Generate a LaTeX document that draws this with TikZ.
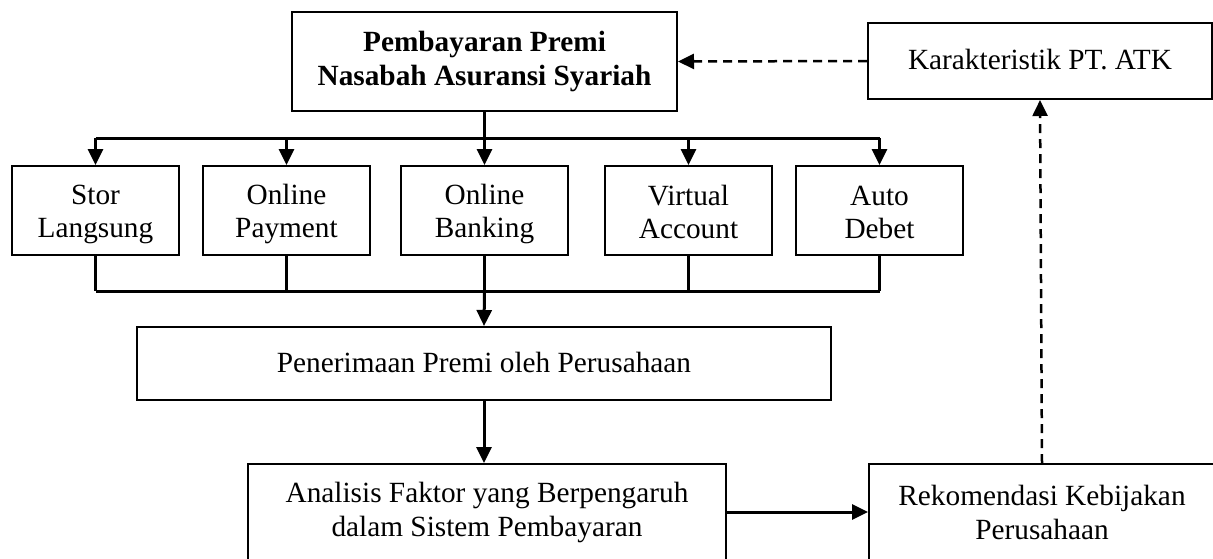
\documentclass[tikz,border=0pt]{standalone}
\usepackage{fontspec}
\setmainfont{Liberation Serif}
\usetikzlibrary{arrows.meta}
\newcommand{\tl}{\rule{0pt}{28pt}}
\newcommand{\bl}{\rule[-5pt]{0pt}{5pt}}
\tikzset{
  box/.style={draw, line width=2pt, align=center, inner sep=0pt,
    font=\fontsize{29.3}{33}\selectfont},
  conn/.style={line width=3pt},
  arr/.style={line width=3pt, -{Triangle[length=16pt,width=15pt]}},
  darr/.style={line width=2.5pt, dash pattern=on 9pt off 6pt, -{Triangle[length=16pt,width=15pt]}},
}
\begin{document}
\begin{tikzpicture}[x=1pt,y=-1pt]
\useasboundingbox (0,0) rectangle (1213,558);
\clip (0,0) rectangle (1213,558);
\node[box, minimum width=385pt, minimum height=99pt, font=\fontsize{29.3}{34}\selectfont\bfseries] (top) at (484.5,61.5) {Pembayaran Premi\\Nasabah Asuransi Syariah};
\node[box, minimum width=344pt, minimum height=76pt] (kar) at (1040,61) {\raisebox{3pt}{Karakteristik PT. ATK}};
\node[box, minimum width=167pt, minimum height=89pt] (stor) at (95.5,210.5) {\tl Stor\\Langsung\bl};
\node[box, minimum width=167pt, minimum height=89pt] (pay) at (286.5,210.5) {\tl Online\\Payment\bl};
\node[box, minimum width=167pt, minimum height=89pt] (bank) at (484.5,210.5) {\tl Online\\Banking\bl};
\node[box, minimum width=167pt, minimum height=89pt] (virt) at (688.5,210.5) {\tl Virtual\\Account\bl};
\node[box, minimum width=167pt, minimum height=89pt] (auto) at (879.5,210.5) {\tl Auto\\Debet\bl};
\node[box, minimum width=694pt, minimum height=73pt] (pen) at (484,363.5) {\raisebox{3pt}{Penerimaan Premi oleh Perusahaan}};
\node[box, minimum width=478pt, minimum height=96pt, font=\fontsize{29.3}{34}\selectfont] (ana) at (487,512) {Analisis Faktor yang Berpengaruh\\dalam Sistem Pembayaran};
\node[box, minimum width=346pt, minimum height=96pt, font=\fontsize{29.3}{34}\selectfont] (rek) at (1042,512) {Rekomendasi Kebijakan\\Perusahaan};
\coordinate (barT) at (0,138);
\coordinate (barB) at (0,291);
% top distribution
\draw[conn] (top.south) -- (top.south |- barT);
\draw[conn] (stor.north |- barT) -- (auto.north |- barT);
\foreach \n in {stor,pay,bank,virt,auto}{
  \draw[arr] (\n.north |- barT) -- (\n.north);
}
% bottom collector
\foreach \n in {stor,pay,bank,virt,auto}{
  \draw[conn] (\n.south) -- (\n.south |- barB);
}
\draw[conn] (stor.south |- barB) -- (auto.south |- barB);
\draw[arr] (bank.south |- barB) -- (pen.north);
\draw[arr] (pen.south) -- (pen.south |- ana.north);
\draw[arr] (ana.east) -- (rek.west);
\draw[darr] (rek.north) -- (kar.south);
\draw[darr] (kar.west) -- (top.east);
\end{tikzpicture}
\end{document}
